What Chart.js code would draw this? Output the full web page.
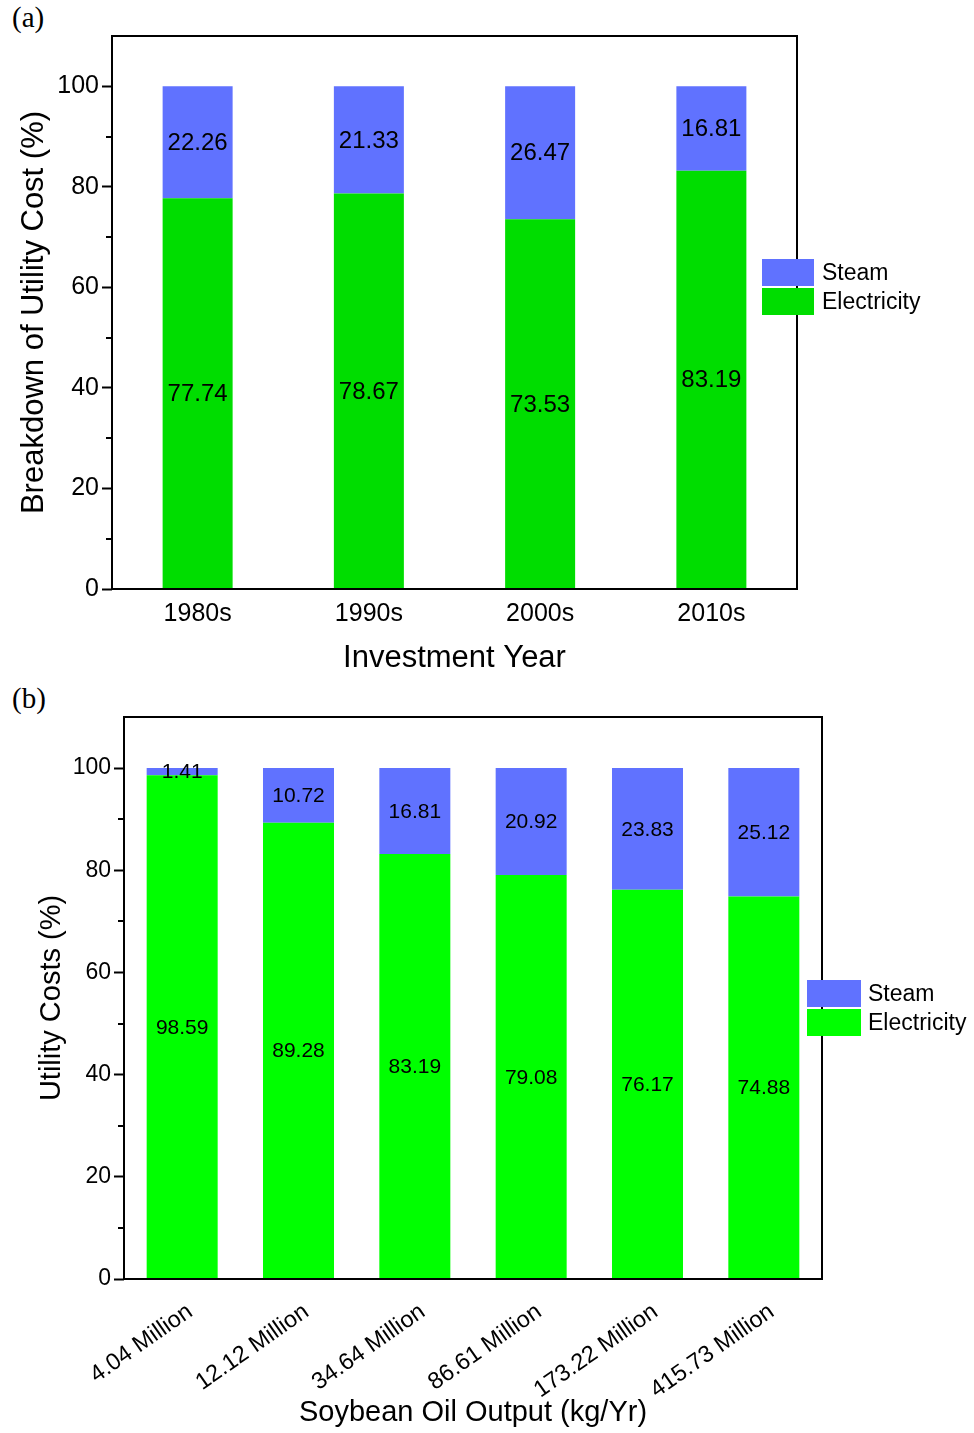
<!DOCTYPE html>
<html><head><meta charset="utf-8">
<script src="https://cdn.jsdelivr.net/npm/chart.js@4.4.1/dist/chart.umd.min.js"></script>
<style>
html,body{margin:0;padding:0;background:#fff;}
body{width:974px;height:1433px;position:relative;overflow:hidden;}
.panel{position:absolute;left:0;width:974px;}
.tag{position:absolute;font-family:"Liberation Serif","Times New Roman",serif;font-size:29px;line-height:29px;color:#000;}
canvas{display:block;}
</style></head><body>
<div class="tag" style="left:12px;top:3px">(a)</div>
<div class="tag" style="left:12px;top:684px">(b)</div>
<div class="panel" style="top:0;height:680px"><canvas id="ca" width="974" height="680" style="width:974px;height:680px"></canvas></div>
<div class="panel" style="top:680px;height:753px"><canvas id="cb" width="974" height="753" style="width:974px;height:753px"></canvas></div>
<script>
// ---- data ----
const yearCategories = ['1980s', '1990s', '2000s', '2010s'];
const yearElectricity = [77.74, 78.67, 73.53, 83.19];
const yearSteam = [22.26, 21.33, 26.47, 16.81];

const outputCategories = ['4.04 Million', '12.12 Million', '34.64 Million', '86.61 Million', '173.22 Million', '415.73 Million'];
const outputElectricity = [98.59, 89.28, 83.19, 79.08, 76.17, 74.88];
const outputSteam = [1.41, 10.72, 16.81, 20.92, 23.83, 25.12];

const majorTicks = [0, 20, 40, 60, 80, 100];
const minorTicks = [10, 30, 50, 70, 90];
const seriesNames = ['Electricity', 'Steam'];
// ---------------

const FONT = '"Liberation Sans", Arial, sans-serif';
const BLUE = 'rgb(96,114,255)';

const decor = {
  id: 'decor',
  afterDatasetsDraw(chart, args, o) {
    const ctx = chart.ctx;
    const ca = chart.chartArea;
    const ys = chart.scales.y;
    ctx.save();
    // value labels at segment centres
    ctx.font = o.labelSize + 'px ' + FONT;
    ctx.fillStyle = '#000';
    ctx.textAlign = 'center';
    ctx.textBaseline = 'middle';
    chart.data.datasets.forEach((ds, di) => {
      const meta = chart.getDatasetMeta(di);
      meta.data.forEach((bar, i) => {
        ctx.fillText(ds.data[i].toFixed(2), bar.x, (bar.y + bar.base) / 2 + 1);
      });
    });
    // frame
    ctx.strokeStyle = '#000';
    ctx.lineWidth = 2;
    ctx.strokeRect(ca.left, ca.top, ca.right - ca.left, ca.bottom - ca.top);
    // minor ticks
    minorTicks.forEach(v => {
      const y = Math.round(ys.getPixelForValue(v));
      ctx.beginPath();
      ctx.moveTo(ca.left - 6, y);
      ctx.lineTo(ca.left, y);
      ctx.stroke();
    });
    // legend (Steam first)
    const items = chart.data.datasets.slice().reverse();
    ctx.font = o.legendSize + 'px ' + FONT;
    ctx.textAlign = 'left';
    items.forEach((ds, k) => {
      const x = ca.right + o.lx;
      const y = ca.top + o.ly + k * o.pitch;
      ctx.fillStyle = ds.backgroundColor;
      ctx.fillRect(x, y, o.bw, o.bh);
      ctx.fillStyle = '#000';
      ctx.fillText(ds.label, x + o.bw + o.gap, y + o.bh / 2 + 1);
    });
    ctx.restore();
  }
};

function makeChart(id, cats, elec, steam, green, s) {
  return new Chart(document.getElementById(id), {
    type: 'bar',
    data: {
      labels: cats,
      datasets: [
        { label: seriesNames[0], data: elec, backgroundColor: green, borderWidth: 0,
          barPercentage: s.barPct, categoryPercentage: 1 },
        { label: seriesNames[1], data: steam, backgroundColor: BLUE, borderWidth: 0,
          barPercentage: s.barPct, categoryPercentage: 1 }
      ]
    },
    options: {
      responsive: false,
      animation: false,
      devicePixelRatio: 1,
      layout: { padding: { top: s.top, right: s.right, left: 0, bottom: 0 } },
      plugins: {
        legend: { display: false },
        tooltip: { enabled: false },
        decor: s.decor
      },
      scales: {
        x: {
          stacked: true,
          grid: { display: false },
          border: { display: false },
          ticks: {
            color: '#000', font: { family: FONT, size: s.xTickSize },
            padding: s.xTickPad, autoSkip: false,
            minRotation: s.rot, maxRotation: s.rot, labelOffset: s.xLabelOffset
          },
          title: {
            display: true, text: s.xTitle, color: '#000',
            font: { family: FONT, size: s.titleSize },
            padding: { top: 0, bottom: s.xTitlePad }
          },
          afterFit: sc => { sc.height = s.xHeight; }
        },
        y: {
          stacked: true,
          min: 0, max: 110, bounds: 'data',
          afterBuildTicks: sc => { sc.ticks = majorTicks.map(v => ({ value: v })); },
          grid: { drawOnChartArea: false, drawTicks: true, tickLength: 10, tickWidth: 2, tickColor: '#000' },
          border: { display: false },
          ticks: { color: '#000', font: { family: FONT, size: s.yTickSize }, padding: 3 },
          title: {
            display: true, text: s.yTitle, color: '#000',
            font: { family: FONT, size: s.titleSize },
            padding: { top: s.yTitlePad, bottom: 0 }
          },
          afterFit: sc => { sc.width = s.yWidth; }
        }
      }
    },
    plugins: [decor]
  });
}

makeChart('ca', yearCategories, yearElectricity, yearSteam, 'rgb(0,221,0)', {
  barPct: 70 / 171.25, top: 36, right: 974 - 797,
  xTickSize: 25, xTickPad: 2, rot: 0, xLabelOffset: 0,
  xTitle: 'Investment Year', titleSize: 31, xTitlePad: 3, xHeight: 680 - 589,
  yTickSize: 25, yTitle: 'Breakdown of Utility Cost (%)', yTitlePad: 16, yWidth: 112,
  decor: { labelSize: 24, legendSize: 23, lx: -35, ly: 223, pitch: 29, bw: 52, bh: 27, gap: 8 }
});

makeChart('cb', outputCategories, outputElectricity, outputSteam, 'rgb(0,255,0)', {
  barPct: 71 / 116.33, top: 37, right: 974 - 822,
  xTickSize: 23.5, xTickPad: 11, rot: 35, xLabelOffset: 8,
  xTitle: 'Soybean Oil Output (kg/Yr)', titleSize: 29, xTitlePad: 3, xHeight: 753 - 599,
  yTickSize: 23, yTitle: 'Utility Costs (%)', yTitlePad: 35, yWidth: 124,
  decor: { labelSize: 21, legendSize: 23, lx: -15, ly: 263, pitch: 29, bw: 54, bh: 27, gap: 7 }
});
</script>
</body></html>
